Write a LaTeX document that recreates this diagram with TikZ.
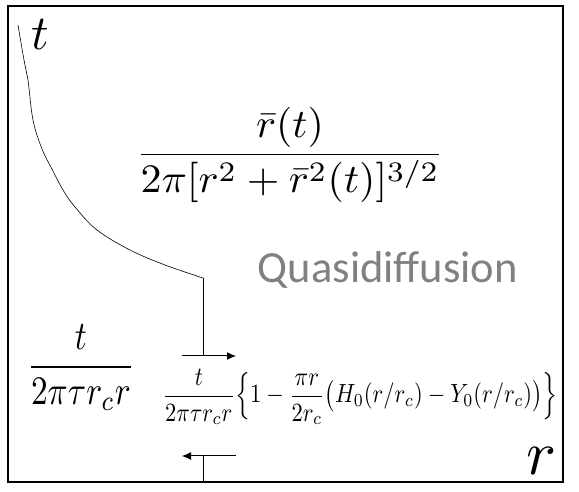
\documentclass[tikz,border=0pt]{standalone}
\usepackage{fontspec}
\usepackage{amsmath}
\usepackage{graphicx}
\newfontfamily\calib{Carlito}
\usetikzlibrary{arrows.meta}
\definecolor{quasigray}{RGB}{128,128,128}
\tikzset{
  frame/.style={draw=black,line width=1.3pt},
  curveline/.style={draw=black,line width=0.6pt},
  guide/.style={draw=black,line width=0.8pt},
  flowarrow/.style={draw=black,line width=1pt,-{Latex[length=9pt,width=8pt]}},
  formula/.style={inner sep=0pt,anchor=center},
  axislabel/.style={inner sep=0pt,anchor=center}
}
\begin{document}
\begin{tikzpicture}[x=1pt,y=1pt]
\useasboundingbox (0,0) rectangle (579,492);
\draw[frame] (8,10) rectangle (563,486);
% curve
\coordinate (c0) at (18,467);
\coordinate (knee) at (203,214);
\draw[curveline] plot[smooth,tension=0.6] coordinates {(c0) (24,432) (28,412) (33,372) (42,343) (53,321) (63,302) (75,285) (97,262) (130,242) (165,227) (knee)};
\coordinate (ua) at (203,136);
\draw[guide] (knee) -- (ua);
\coordinate (ua1) at (182,136);
\coordinate (ua2) at (236,136);
\draw[flowarrow] (ua1) -- (ua2);
\coordinate (la1) at (236,36);
\coordinate (la2) at (182,36);
\draw[flowarrow] (la1) -- (la2);
\coordinate (lb) at (203,36);
\coordinate (lbot) at (203,10);
\draw[guide] (lb) -- (lbot);
% labels
\node[axislabel] (tlab) at (40,457) {\resizebox{!}{30pt}{$t$}};
\node[axislabel] (rlab) at (542,31) {\resizebox{!}{27pt}{$r$}};
\node[formula] (big) at (290,337) {\resizebox*{309pt}{96pt}{$\dfrac{\bar r(t)}{2\pi[r^2+\bar r^2(t)]^{3/2}}$}};
\node[formula] (left) at (81,124) {\resizebox*{108pt}{86pt}{$\dfrac{t}{2\pi\tau r_c r}$}};
\node[formula] (small) at (360,95) {\resizebox*{395pt}{56pt}{$\dfrac{t}{2\pi\tau r_c r}\Bigl\{1-\dfrac{\pi r}{2r_c}\bigl(H_0(r/r_c)-Y_0(r/r_c)\bigr)\Bigr\}$}};
\node[inner sep=0pt,text=quasigray] (quasi) at (388,222) {\resizebox{260pt}{!}{\calib Quasidiffusion}};
\end{tikzpicture}
\end{document}
